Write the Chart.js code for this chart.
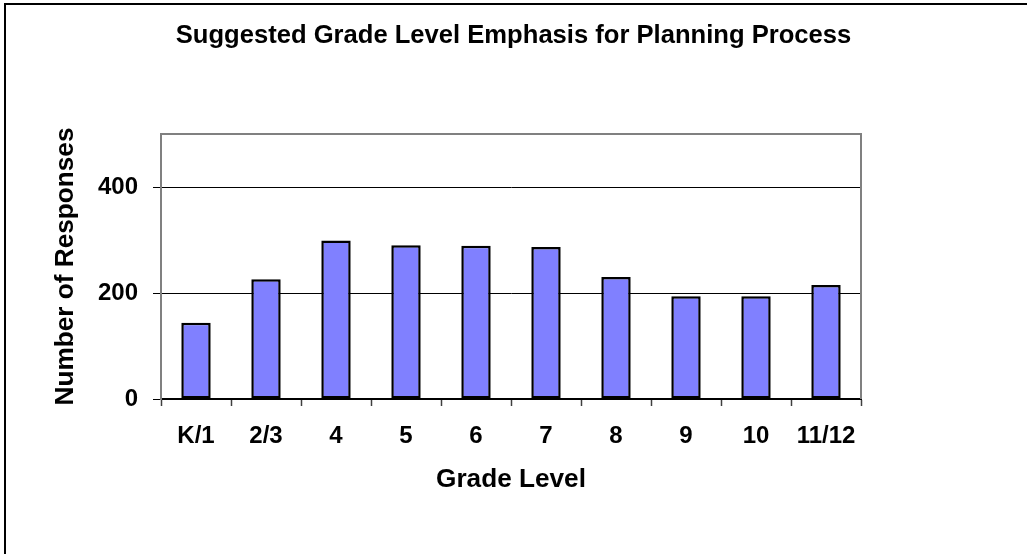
<!DOCTYPE html>
<html lang="en">

<head>
  <title>Grade Level Emphasis</title>
  <script src="https://cdn.jsdelivr.net/npm/chart.js"></script>
  <style>
    body { margin: 0; background: #fff; }
    canvas { display: block; }
  </style>
</head>

<body>
  <canvas id="grafico" width="1027" height="554"></canvas>

  <script>
    // grade levels and number of responses for each
    var niveis = ['K/1', '2/3', '4', '5', '6', '7', '8', '9', '10', '11/12'];
    var respostas = [144, 226, 299, 290, 289, 287, 230, 194, 194, 215];
    var ticksY = [0, 200, 400];

    var fonte = 'Arial, "Liberation Sans", sans-serif';

    // frame around the whole chart + grey border on top/right of plot area
    const molduras = {
      id: 'molduras',
      beforeDraw(chart) {
        const ctx = chart.ctx;
        ctx.save();
        ctx.fillStyle = '#fff';
        ctx.fillRect(0, 0, chart.width, chart.height);
        ctx.strokeStyle = '#000';
        ctx.lineWidth = 2;
        ctx.strokeRect(5, 4, chart.width + 40, chart.height + 40);
        ctx.restore();
      },
      afterDraw(chart) {
        const a = chart.chartArea;
        const ctx = chart.ctx;
        ctx.save();
        ctx.strokeStyle = '#808080';
        ctx.lineWidth = 2;
        ctx.beginPath();
        ctx.moveTo(a.left, a.top);
        ctx.lineTo(a.right, a.top);
        ctx.lineTo(a.right, a.bottom);
        ctx.stroke();
        ctx.restore();
      }
    };

    const config = {
      type: 'bar',
      data: {
        labels: niveis,
        datasets: [{
          data: respostas,
          backgroundColor: '#8080FF',
          borderColor: '#000',
          borderWidth: 2.5,
          borderSkipped: false,
          barPercentage: 0.42,
          categoryPercentage: 1
        }]
      },
      options: {
        responsive: false,
        animation: false,
        plugins: {
          legend: { display: false },
          tooltip: { enabled: false },
          title: {
            display: true,
            text: 'Suggested Grade Level Emphasis for Planning Process',
            color: '#000',
            font: { family: fonte, size: 25.6, weight: 'bold' },
            padding: { top: 21, bottom: 82.3 }
          }
        },
        scales: {
          x: {
            offset: true,
            grid: {
              offset: true,
              drawOnChartArea: false,
              tickLength: 7,
              tickWidth: 1.5,
              tickColor: '#404040'
            },
            border: { color: '#000', width: 2 },
            ticks: {
              color: '#000',
              padding: 16,
              maxRotation: 0,
              font: { family: fonte, size: 24, weight: 'bold' }
            },
            title: {
              display: true,
              text: 'Grade Level',
              color: '#000',
              font: { family: fonte, size: 26.2, weight: 'bold' },
              padding: { top: 0, bottom: 58.3 }
            },
            afterFit(scale) { scale.height = 155; }
          },
          y: {
            min: 0,
            max: 500,
            afterBuildTicks(scale) {
              scale.ticks = ticksY.map(function (v) { return { value: v }; });
            },
            grid: {
              color: '#000',
              lineWidth: 1,
              tickLength: 8,
              tickColor: '#000'
            },
            border: { color: '#808080', width: 2 },
            ticks: {
              color: '#000',
              padding: 15,
              font: { family: fonte, size: 24, weight: 'bold' }
            },
            title: {
              display: true,
              text: 'Number of Responses',
              color: '#000',
              font: { family: fonte, size: 26.2, weight: 'bold' },
              padding: { top: 50, bottom: 0 }
            },
            afterFit(scale) { scale.width = 161; }
          },
          // empty space on the right side of the plot
          vazio: {
            type: 'linear',
            position: 'right',
            grid: { drawOnChartArea: false, drawTicks: false },
            border: { display: false },
            ticks: { display: false },
            afterFit(scale) { scale.width = 166; }
          }
        }
      },
      plugins: [molduras]
    };

    let myChart = new Chart(document.getElementById('grafico'), config);
  </script>
</body>

</html>
